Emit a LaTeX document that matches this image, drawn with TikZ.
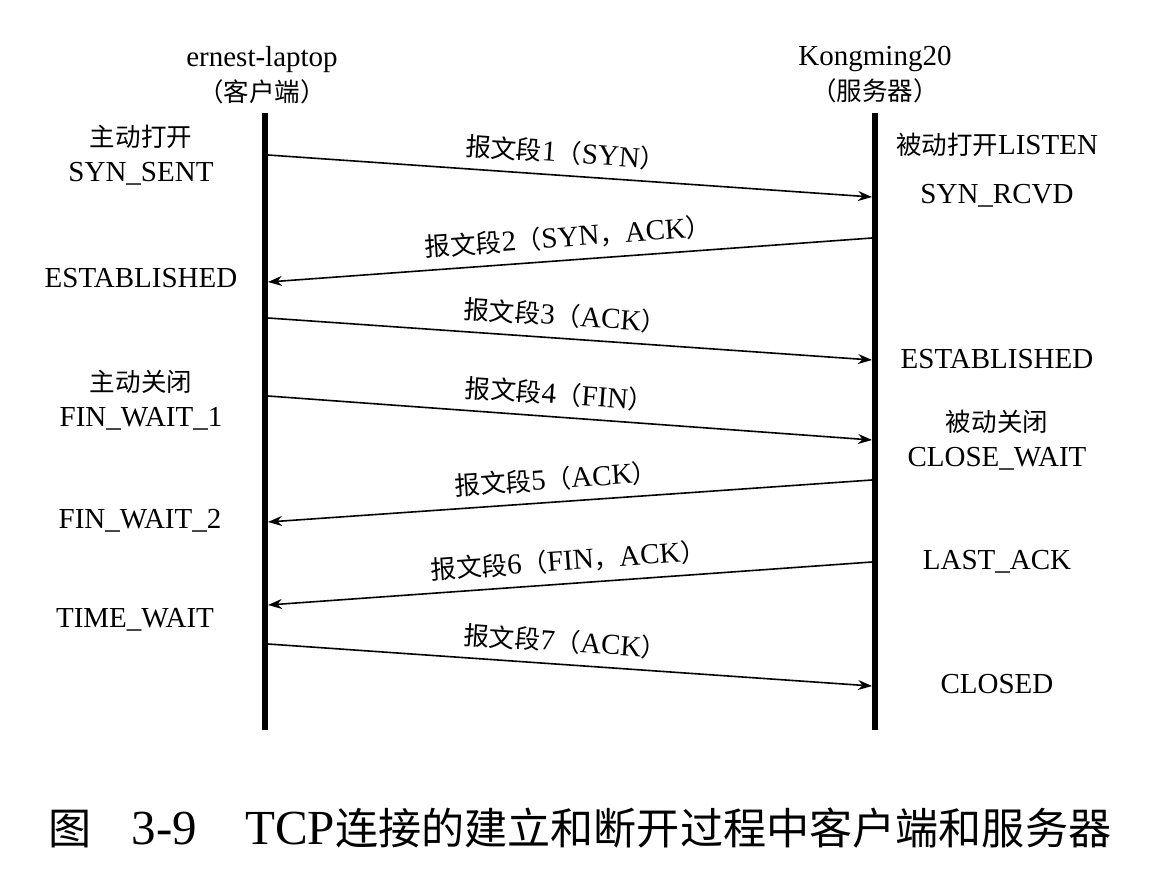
\documentclass[tikz,border=0pt]{standalone}
\usepackage{fontspec}
\setmainfont{Liberation Serif}
\newfontfamily\cjk[Scale=0.88]{Noto Sans CJK SC}
\newcommand{\zh}[1]{{\cjk #1}}
\usetikzlibrary{positioning,arrows.meta}

\begin{document}
\begin{tikzpicture}[x=0.5pt, y=-0.5pt,
    every node/.style={font=\fontsize{14.5}{17.5}\selectfont, inner sep=1pt},
    state/.style={align=center},
    lifeline/.style={line width=3pt},
    msg/.style={-{Stealth[length=7pt, width=5pt]}, line width=0.8pt},
    seg/.style={sloped, above=4pt}]
    \useasboundingbox (0,0) rectangle (1160,872);

    % hosts
    \node[state] (client) at (262,75) {ernest-laptop\\\zh{（客户端）}};
    \node[state] (server) at (875,75) {Kongming20\\\zh{（服务器）}};

    \coordinate (ctop) at (265,113);
    \coordinate (cbot) at (265,730);
    \coordinate (stop) at (875,113);
    \coordinate (sbot) at (875,730);
    \draw[lifeline] (ctop) -- (cbot);
    \draw[lifeline] (stop) -- (sbot);

    % client states
    \node[state] (synsent) at (141,155) {\zh{主动打开}\\SYN\_SENT};
    \node[state] (cest) at (141,278) {ESTABLISHED};
    \node[state] (fin1) at (141,400) {\zh{主动关闭}\\FIN\_WAIT\_1};
    \node[state] (fin2) at (140,521) {FIN\_WAIT\_2};
    \node[state] (timewait) at (135,620) {TIME\_WAIT};

    % server states
    \node[state] (listen) at (997,145) {\zh{被动打开}LISTEN};
    \node[state] (synrcvd) at (997,196) {SYN\_RCVD};
    \node[state] (sest) at (997,359) {ESTABLISHED};
    \node[state] (closewait) at (997,440) {\zh{被动关闭}\\CLOSE\_WAIT};
    \node[state] (lastack) at (997,562) {LAST\_ACK};
    \node[state] (closed) at (997,684) {CLOSED};

    % message ends
    \coordinate (c1) at (268,155);  \coordinate (s1) at (872,197);
    \coordinate (s2) at (872,238);  \coordinate (c2) at (268,282);
    \coordinate (c3) at (268,318);  \coordinate (s3) at (872,360);
    \coordinate (c4) at (268,396);  \coordinate (s4) at (872,440);
    \coordinate (s5) at (872,480);  \coordinate (c5) at (268,522);
    \coordinate (s6) at (872,562);  \coordinate (c6) at (268,605);
    \coordinate (c7) at (268,644);  \coordinate (s7) at (872,686);

    \path[msg]
    (c1) edge node[seg, pos=0.49] {\zh{报文段}1\zh{（}SYN\zh{）}} (s1)
    (s2) edge node[seg, pos=0.5] {\zh{报文段}2\zh{（}SYN\zh{，}ACK\zh{）}} (c2)
    (c3) edge node[seg, pos=0.49] {\zh{报文段}3\zh{（}ACK\zh{）}} (s3)
    (c4) edge node[seg, pos=0.48] {\zh{报文段}4\zh{（}FIN\zh{）}} (s4)
    (s5) edge node[seg, pos=0.52] {\zh{报文段}5\zh{（}ACK\zh{）}} (c5)
    (s6) edge node[seg, pos=0.5] {\zh{报文段}6\zh{（}FIN\zh{，}ACK\zh{）}} (c6)
    (c7) edge node[seg, pos=0.49] {\zh{报文段}7\zh{（}ACK\zh{）}} (s7);

    % caption
    \node[font=\fontsize{24.5}{28}\selectfont] (caption) at (580,828)
        {\zh{图}\hspace{20pt}3-9\hspace{24pt}TCP\zh{连接的建立和断开过程中客户端和服务器}};
\end{tikzpicture}
\end{document}
